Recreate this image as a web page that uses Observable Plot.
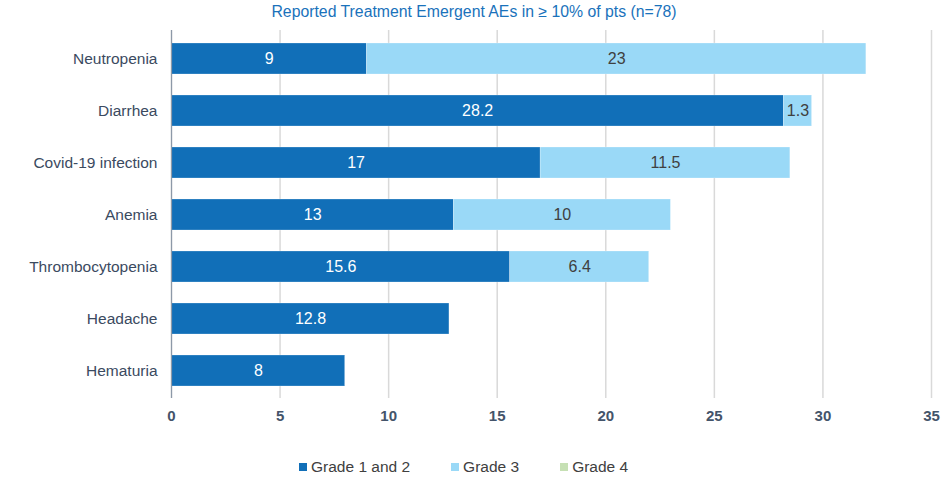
<!DOCTYPE html>
<html>
<head>
<meta charset="utf-8">
<script src="https://cdn.jsdelivr.net/npm/d3@7"></script>
<script src="https://cdn.jsdelivr.net/npm/@observablehq/plot@0.6"></script>
<style>
  body { margin: 0; background: #fff; font-family: "Liberation Sans", Arial, sans-serif; }
  #wrap { position: relative; width: 948px; height: 484px; }
  #title { position: absolute; top: 0; left: 0; width: 948px; height: 24px; line-height: 24px; text-align: center; color: #1a72bb; font-size: 15.8px; }
  #chart { position: absolute; top: 26px; left: 0; }
  #legend { position: absolute; top: 458px; left: 299px; display: flex; align-items: center; font-size: 15.5px; color: #404040; }
  .item { display: flex; align-items: center; margin-right: 41px; }
  .sw { width: 8px; height: 8px; margin-right: 4px; }
</style>
</head>
<body>
<div id="wrap">
  <div id="title">Reported Treatment Emergent AEs in ≥ 10% of pts (n=78)</div>
  <div id="chart"></div>
  <div id="legend"></div>
</div>
<script>
const categories = ["Neutropenia", "Diarrhea", "Covid-19 infection", "Anemia", "Thrombocytopenia", "Headache", "Hematuria"];
const grade12 = [9, 28.2, 17, 13, 15.6, 12.8, 8];
const grade3 = [23, 1.3, 11.5, 10, 6.4, 0, 0];
const grade4 = [0, 0, 0, 0, 0, 0, 0];
const seriesNames = ["Grade 1 and 2", "Grade 3", "Grade 4"];
const seriesColors = ["#116fb8", "#9ad9f7", "#c6e0b4"];
const xTicks = [0, 5, 10, 15, 20, 25, 30, 35];

const series = [grade12, grade3, grade4];
const rows = [];
categories.forEach((c, i) => {
  series.forEach((s, k) => {
    if (s[i] > 0) rows.push({cat: c, grade: seriesNames[k], value: s[i]});
  });
});

const chart = Plot.plot({
  width: 948,
  height: 414,
  marginLeft: 171,
  marginRight: 17,
  marginTop: 4,
  marginBottom: 42,
  style: {fontFamily: "'Liberation Sans', Arial, sans-serif", fontSize: "15px", background: "transparent"},
  x: {domain: [0, 35], ticks: xTicks, label: null},
  y: {domain: categories, paddingInner: 0.41, paddingOuter: 0.205, label: null},
  color: {domain: seriesNames, range: seriesColors},
  marks: [
    Plot.gridX(xTicks, {stroke: "#d9d9d9", strokeOpacity: 1, strokeWidth: 1.5}),
    Plot.barX(rows, Plot.stackX({x: "value", y: "cat", fill: "grade", order: seriesNames, stroke: "#ffffff", strokeOpacity: 0.5, strokeWidth: 0.5})),
    Plot.text(rows, Plot.stackX({
      x: "value", y: "cat", order: seriesNames, z: "grade",
      text: d => String(d.value),
      fill: d => d.grade === "Grade 1 and 2" ? "#ffffff" : "#404040",
      fontSize: 16
    })),
    Plot.ruleX([0], {stroke: "#8d99a8", strokeWidth: 1.2}),
    Plot.axisX(xTicks, {tickSize: 0, tickPadding: 12, fontWeight: "bold", fontSize: 15, fill: "#44546a", label: null}),
    Plot.axisY({tickSize: 0, tickPadding: 14, fontSize: 15.5, fill: "#3b4a5f", label: null})
  ]
});
document.getElementById("chart").appendChild(chart);

const legend = document.getElementById("legend");
seriesNames.forEach((n, k) => {
  const it = document.createElement("div");
  it.className = "item";
  const sw = document.createElement("div");
  sw.className = "sw";
  sw.style.background = seriesColors[k];
  const tx = document.createElement("span");
  tx.textContent = n;
  it.appendChild(sw);
  it.appendChild(tx);
  legend.appendChild(it);
});
</script>
</body>
</html>
